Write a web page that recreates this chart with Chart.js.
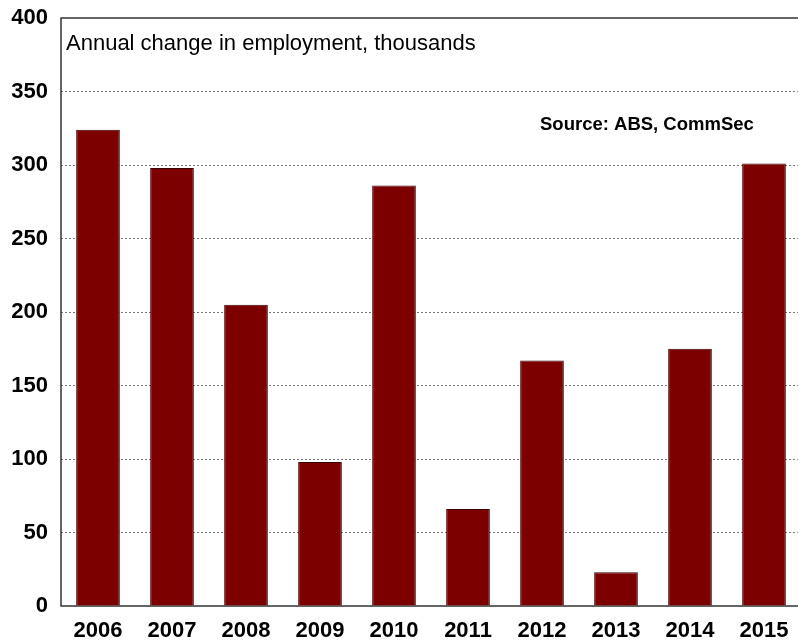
<!DOCTYPE html>
<html>
<head>
<meta charset="utf-8">
<script src="https://cdn.jsdelivr.net/npm/chart.js@4/dist/chart.umd.min.js"></script>
<style>
	html, body { margin: 0; padding: 0; background: #fff; overflow: hidden; }
	#wrap { position: relative; width: 801px; height: 642px; }
</style>
</head>
<body>
<div id="wrap"><canvas id="employmentChart"></canvas></div>
<script>
const years = ["2006", "2007", "2008", "2009", "2010", "2011", "2012", "2013", "2014", "2015"];
const employmentChange = [324, 298, 205, 98, 286, 66, 167, 23, 175, 301];
const yTicks = [0, 50, 100, 150, 200, 250, 300, 350, 400];

const subtitle = "Annual change in employment, thousands";
const sourceNote = "Source: ABS, CommSec";

// frame + text annotations drawn on top of the plot
const annotations = {
	id: "annotations",
	beforeDatasetsDraw(chart) {
		const { ctx, chartArea: a } = chart;
		ctx.save();
		ctx.strokeStyle = "#333";
		ctx.lineWidth = 1.5;
		ctx.beginPath();
		ctx.moveTo(a.right + 2, a.top);
		ctx.lineTo(a.left, a.top);
		ctx.lineTo(a.left, a.bottom);
		ctx.lineTo(a.right + 2, a.bottom);
		ctx.stroke();
		ctx.restore();
	},
	afterDraw(chart) {
		const { ctx, chartArea: a } = chart;
		ctx.save();
		ctx.fillStyle = "#000";
		ctx.textBaseline = "alphabetic";
		ctx.textAlign = "left";
		ctx.font = "22px 'Liberation Sans', Arial, sans-serif";
		ctx.fillText(subtitle, a.left + 5, a.top + 32);
		ctx.font = "bold 18.5px 'Liberation Sans', Arial, sans-serif";
		ctx.fillText(sourceNote, 540, 130);
		ctx.restore();
	},
};

new Chart(document.getElementById("employmentChart").getContext("2d"), {
	type: "bar",
	data: {
		labels: years,
		datasets: [
			{
				label: "Employment",
				data: employmentChange,
				backgroundColor: "#7d0000",
				borderColor: "#3a0000",
				borderWidth: 1,
				categoryPercentage: 1,
				barPercentage: 0.59,
			},
		],
	},
	options: {
		responsive: true,
		maintainAspectRatio: false,
		animation: false,
		layout: { padding: { top: 18, right: 0, left: 0, bottom: 0 } },
		plugins: {
			legend: { display: false },
			tooltip: { enabled: false },
		},
		scales: {
			x: {
				grid: { display: false, drawTicks: false },
				border: { display: false },
				ticks: {
					color: "#000",
					padding: 12,
					maxRotation: 0,
					font: { family: "'Liberation Sans', Arial, sans-serif", size: 22, weight: "bold" },
				},
				afterFit: (scale) => {
					scale.height = 36;
					scale.paddingLeft = 0;
					scale.paddingRight = 0;
				},
			},
			y: {
				min: 0,
				max: 400,
				afterBuildTicks: (scale) => {
					scale.ticks = yTicks.map((v) => ({ value: v }));
				},
				grid: {
					drawTicks: false,
					lineWidth: 1,
					color: (c) => (c.tick && (c.tick.value === 0 || c.tick.value === 400) ? "transparent" : "#777"),
				},
				border: { display: false, dash: [2, 2] },
				ticks: {
					color: "#000",
					padding: 13,
					font: { family: "'Liberation Sans', Arial, sans-serif", size: 22, weight: "bold" },
				},
				afterFit: (scale) => {
					scale.width = 61;
					scale.paddingTop = 0;
					scale.paddingBottom = 0;
				},
			},
		},
	},
	plugins: [annotations],
});
</script>
</body>
</html>
